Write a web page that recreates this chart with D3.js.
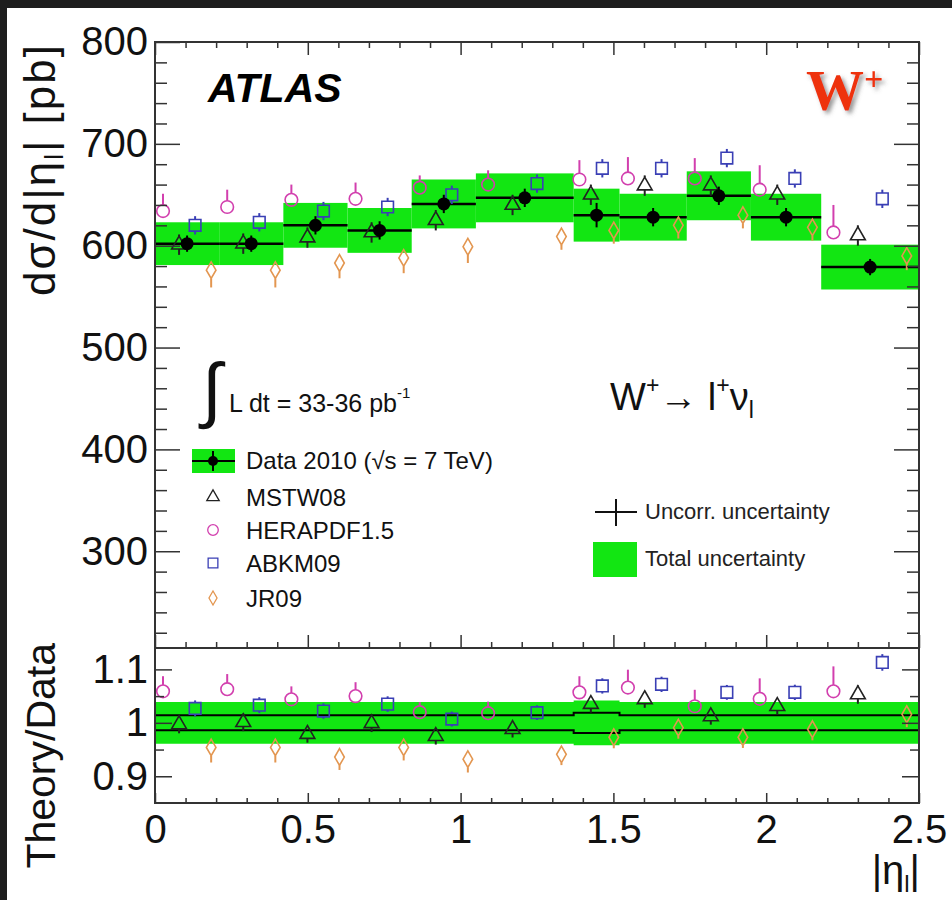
<!DOCTYPE html>
<html lang="en">
<head>
<meta charset="UTF-8">
<title>W+ cross section vs |eta|</title>
<script src="https://cdn.jsdelivr.net/npm/d3@7"></script>
<style>
  body { margin: 0; background: #fff; }
  svg { display: block; font-family: "Liberation Sans", Arial, sans-serif; }
  .tick line { stroke: #333; stroke-width: 1.5; }
  .tick text { fill: #111; }
</style>
</head>
<body>
<div id="chart"></div>
<script>
// bin edges in |eta_l|
var edges = [0, 0.21, 0.42, 0.63, 0.84, 1.05, 1.37, 1.52, 1.74, 1.95, 2.18, 2.5];

// measured dsigma/d|eta| [pb]
var xsec    = [602, 602, 620, 615, 641, 647, 630, 628, 649, 628, 579];
var statErr = [8, 8, 9, 9, 9, 9, 12, 9, 9, 9, 8];
var totErr  = [21, 21, 22, 22, 24, 24, 26, 23, 24, 23, 22];

// ratio panel band (relative half widths)
var ratioUnc = [0.014, 0.014, 0.014, 0.014, 0.014, 0.014, 0.019, 0.014, 0.014, 0.014, 0.014];
var ratioTot = [0.039, 0.039, 0.039, 0.039, 0.039, 0.039, 0.042, 0.039, 0.039, 0.039, 0.039];

// predictions [pb]
var mstw = [601, 602, 608, 613, 625, 640, 650, 659, 659, 650, 610];
var hera = [634, 638, 645, 646, 657, 660, 665, 666, 666, 655, 613];
var abkm = [620, 623, 634, 638, 650, 661, 676, 676, 686, 666, 646];
var jr09 = [576, 576, 583, 588, 599, 609, 615, 620, 630, 618, 590];

// theory / data
var mstwR = [0.997, 1.001, 0.979, 0.999, 0.975, 0.988, 1.035, 1.044, 1.012, 1.031, 1.053];
var heraR = [1.059, 1.063, 1.044, 1.050, 1.020, 1.018, 1.057, 1.066, 1.031, 1.045, 1.059];
var abkmR = [1.027, 1.033, 1.022, 1.035, 1.007, 1.019, 1.069, 1.072, 1.057, 1.057, 1.113];
var jr09R = [0.954, 0.954, 0.936, 0.954, 0.932, 0.941, 0.973, 0.991, 0.973, 0.988, 1.016];

// prediction uncertainties [pb]
var mstwErr = [10, 10, 10, 10, 10, 10, 10, 10, 10, 10, 10];
var heraUp  = [17, 17, 15, 16, 12, 14, 19, 21, 20, 24, 27];
var heraDn  = [3, 3, 3, 3, 3, 3, 3, 3, 3, 3, 3];
var abkmErr = [9, 9, 9, 9, 9, 9, 9, 9, 9, 9, 9];
var jr09Up  = [4, 4, 4, 4, 4, 4, 4, 4, 4, 4, 4];
var jr09Dn  = [17, 17, 15, 15, 16, 13, 13, 13, 13, 13, 14];

var green = "#12e612";

// marker half extents above / below centre, per d3 symbol geometry
function ext(sym, size) {
    if (sym === d3.symbolCircle) { var r = Math.sqrt(size / Math.PI); return [r, r]; }
    if (sym === d3.symbolSquare) { var h = Math.sqrt(size) / 2; return [h, h]; }
    if (sym === d3.symbolTriangle) { var t = Math.sqrt(size / (3 * Math.sqrt(3))); return [2 * t, t]; }
    var dd = Math.sqrt(size / (2 * Math.tan(Math.PI / 6))); return [dd, dd];
}

var models = [
    {name: "MSTW08", top: mstw, ratio: mstwR, up: mstwErr, dn: mstwErr, sym: d3.symbolTriangle, size: 95, color: "#222222", frac: 0.375},
    {name: "HERAPDF1.5", top: hera, ratio: heraR, up: heraUp, dn: heraDn, sym: d3.symbolCircle, size: 125, color: "#d23fae", frac: 0.125},
    {name: "ABKM09", top: abkm, ratio: abkmR, up: abkmErr, dn: abkmErr, sym: d3.symbolSquare, size: 135, color: "#3a3fb5", frac: 0.625},
    {name: "JR09", top: jr09, ratio: jr09R, up: jr09Up, dn: jr09Dn, sym: d3.symbolDiamond, size: 80, color: "#e39650", frac: 0.875}
];

var width = 952, height = 900;
var left = 155, right = 919, topY = 42, midY = 648, botY = 803;

var svg = d3.select("#chart").append("svg")
    .attr("width", width)
    .attr("height", height);

svg.append("rect").attr("width", width).attr("height", height).attr("fill", "#fff");
svg.append("rect").attr("width", width).attr("height", 8).attr("fill", "#1e1e1e");
svg.append("rect").attr("width", 7).attr("height", height).attr("fill", "#1e1e1e");

var defs = svg.append("defs");
defs.append("filter").attr("id", "shadow")
    .append("feDropShadow")
    .attr("dx", 3).attr("dy", 3).attr("stdDeviation", 2)
    .attr("flood-color", "#555").attr("flood-opacity", 0.6);

var x = d3.scaleLinear().domain([0, 2.5]).range([left, right]);
var yT = d3.scaleLinear().domain([205, 800]).range([midY, topY]);
var yB = d3.scaleLinear().domain([0.85, 1.14]).range([botY, midY]);

var bins = d3.range(xsec.length);
var xMajor = [0, 0.5, 1, 1.5, 2, 2.5];
var xMinor = d3.range(0.1, 2.5, 0.1).filter(function(v) { return Math.abs(v * 2 - Math.round(v * 2)) > 0.01; });

// ---------- top panel ----------
var gTop = svg.append("g");

gTop.selectAll(".box")
    .data(bins)
    .enter().append("rect")
    .attr("x", function(i) { return x(edges[i]); })
    .attr("width", function(i) { return x(edges[i + 1]) - x(edges[i]); })
    .attr("y", function(i) { return yT(xsec[i] + totErr[i]); })
    .attr("height", function(i) { return yT(xsec[i] - totErr[i]) - yT(xsec[i] + totErr[i]); })
    .attr("fill", green);

gTop.selectAll(".cen")
    .data(bins)
    .enter().append("line")
    .attr("x1", function(i) { return x(edges[i]); })
    .attr("x2", function(i) { return x(edges[i + 1]); })
    .attr("y1", function(i) { return yT(xsec[i]); })
    .attr("y2", function(i) { return yT(xsec[i]); })
    .attr("stroke", "#000").attr("stroke-width", 2.5);

function drawModels(g, yScale, useRatio) {
    models.forEach(function(m) {
        var e = ext(m.sym, m.size);
        var pos = function(i) { return edges[i] + m.frac * (edges[i + 1] - edges[i]); };
        var val = function(i) { return useRatio ? m.ratio[i] : m.top[i]; };
        var eu = function(i) { return useRatio ? m.up[i] / xsec[i] : m.up[i]; };
        var ed = function(i) { return useRatio ? m.dn[i] / xsec[i] : m.dn[i]; };
        // error bar parts outside the marker
        g.selectAll(null)
            .data(bins)
            .enter().append("line")
            .attr("x1", function(i) { return x(pos(i)); })
            .attr("x2", function(i) { return x(pos(i)); })
            .attr("y1", function(i) { return yScale(val(i) + eu(i)); })
            .attr("y2", function(i) { return Math.max(yScale(val(i) + eu(i)), yScale(val(i)) - e[0]); })
            .attr("stroke", m.color).attr("stroke-width", 2);
        g.selectAll(null)
            .data(bins)
            .enter().append("line")
            .attr("x1", function(i) { return x(pos(i)); })
            .attr("x2", function(i) { return x(pos(i)); })
            .attr("y1", function(i) { return Math.min(yScale(val(i) - ed(i)), yScale(val(i)) + e[1]); })
            .attr("y2", function(i) { return yScale(val(i) - ed(i)); })
            .attr("stroke", m.color).attr("stroke-width", 2);
        g.selectAll(null)
            .data(bins)
            .enter().append("path")
            .attr("d", d3.symbol().type(m.sym).size(m.size))
            .attr("transform", function(i) { return "translate(" + x(pos(i)) + "," + yScale(val(i)) + ")"; })
            .attr("fill", "none")
            .attr("stroke", m.color).attr("stroke-width", 1.6);
    });
}
drawModels(gTop, yT, false);

gTop.selectAll(".stat")
    .data(bins)
    .enter().append("line")
    .attr("x1", function(i) { return x((edges[i] + edges[i + 1]) / 2); })
    .attr("x2", function(i) { return x((edges[i] + edges[i + 1]) / 2); })
    .attr("y1", function(i) { return yT(xsec[i] + statErr[i]); })
    .attr("y2", function(i) { return yT(xsec[i] - statErr[i]); })
    .attr("stroke", "#000").attr("stroke-width", 2);

gTop.selectAll(".pt")
    .data(bins)
    .enter().append("circle")
    .attr("cx", function(i) { return x((edges[i] + edges[i + 1]) / 2); })
    .attr("cy", function(i) { return yT(xsec[i]); })
    .attr("r", 6.5)
    .attr("fill", "#000");

// ---------- ratio panel ----------
var gBot = svg.append("g");
var steps = [];
bins.forEach(function(i) {
    steps.push({x: edges[i], i: i});
    steps.push({x: edges[i + 1], i: i});
});

gBot.append("path")
    .datum(steps)
    .attr("d", d3.area()
        .x(function(d) { return x(d.x); })
        .y0(function(d) { return yB(1 - ratioTot[d.i]); })
        .y1(function(d) { return yB(1 + ratioTot[d.i]); }))
    .attr("fill", green);

[1, -1].forEach(function(s) {
    gBot.append("path")
        .datum(steps)
        .attr("d", d3.line()
            .x(function(d) { return x(d.x); })
            .y(function(d) { return yB(1 + s * ratioUnc[d.i]); }))
        .attr("fill", "none").attr("stroke", "#000").attr("stroke-width", 2);
});

drawModels(gBot, yB, true);

// ---------- axes ----------
function ax(axis, tx, ty) {
    var g = svg.append("g").attr("transform", "translate(" + tx + "," + ty + ")").call(axis);
    g.select(".domain").remove();
    return g;
}
var fmt = function(d) { return d3.format("")(d); };

var yLab = ax(d3.axisLeft(yT).tickValues([300, 400, 500, 600, 700, 800]).tickSize(-25).tickPadding(7), left, 0);
yLab.selectAll("text").attr("font-size", 40);
ax(d3.axisLeft(yT).tickValues(d3.range(220, 800, 20).filter(function(v) { return v % 100; })).tickSize(-12).tickFormat(""), left, 0);
ax(d3.axisRight(yT).tickValues([300, 400, 500, 600, 700]).tickSize(-25).tickFormat(""), right, 0);
ax(d3.axisRight(yT).tickValues(d3.range(220, 800, 20).filter(function(v) { return v % 100; })).tickSize(-12).tickFormat(""), right, 0);
ax(d3.axisTop(x).tickValues(xMajor).tickSize(-13).tickFormat(""), 0, topY);
ax(d3.axisTop(x).tickValues(xMinor).tickSize(-6).tickFormat(""), 0, topY);
ax(d3.axisBottom(x).tickValues(xMajor).tickSize(-13).tickFormat(""), 0, midY);
ax(d3.axisBottom(x).tickValues(xMinor).tickSize(-6).tickFormat(""), 0, midY);

var rLab = ax(d3.axisLeft(yB).tickValues([0.9, 1, 1.1]).tickSize(-17).tickPadding(7).tickFormat(fmt), left, 0);
rLab.selectAll("text").attr("font-size", 40);
ax(d3.axisLeft(yB).tickValues([0.95, 1.05]).tickSize(-9).tickFormat(""), left, 0);
ax(d3.axisRight(yB).tickValues([0.9, 1, 1.1]).tickSize(-17).tickFormat(""), right, 0);
ax(d3.axisRight(yB).tickValues([0.95, 1.05]).tickSize(-9).tickFormat(""), right, 0);
var xLab = ax(d3.axisBottom(x).tickValues(xMajor).tickSize(-10).tickPadding(12).tickFormat(fmt), 0, botY);
xLab.selectAll("text").attr("font-size", 40);
ax(d3.axisBottom(x).tickValues(xMinor).tickSize(-5).tickFormat(""), 0, botY);

// frames
svg.append("rect").attr("x", left).attr("y", topY).attr("width", right - left).attr("height", midY - topY)
    .attr("fill", "none").attr("stroke", "#333").attr("stroke-width", 2);
svg.append("rect").attr("x", left).attr("y", midY).attr("width", right - left).attr("height", botY - midY)
    .attr("fill", "none").attr("stroke", "#333").attr("stroke-width", 2);

// ---------- titles ----------
var yt = svg.append("text")
    .attr("transform", "translate(55,43) rotate(-90)")
    .attr("text-anchor", "end")
    .attr("font-size", 44).attr("letter-spacing", 2).attr("fill", "#111");
yt.append("tspan").text("dσ/d|η");
yt.append("tspan").attr("font-size", 26).attr("dy", 8).text("l");
yt.append("tspan").attr("dy", -8).text("| [pb]");

svg.append("text")
    .attr("transform", "translate(55,643) rotate(-90)")
    .attr("text-anchor", "end")
    .attr("font-size", 41).attr("fill", "#111")
    .text("Theory/Data");

var xt = svg.append("text")
    .attr("x", 920).attr("y", 884)
    .attr("text-anchor", "end")
    .attr("font-size", 40).attr("fill", "#111");
xt.append("tspan").text("|η");
xt.append("tspan").attr("font-size", 24).attr("dy", 8).text("l");
xt.append("tspan").attr("dy", -8).text("|");

svg.append("text")
    .attr("x", 208).attr("y", 102)
    .attr("font-size", 41).attr("font-weight", "bold").attr("font-style", "italic")
    .attr("fill", "#000")
    .text("ATLAS");

var wp = svg.append("text")
    .attr("x", 806).attr("y", 110)
    .attr("font-family", "'Liberation Serif', serif")
    .attr("font-size", 58).attr("font-weight", "bold")
    .attr("fill", "#ee3311")
    .attr("filter", "url(#shadow)");
wp.append("tspan").text("W");
wp.append("tspan").attr("font-size", 34).attr("dy", -20).text("+");

// integrated luminosity
svg.append("text")
    .attr("x", 202).attr("y", 414)
    .attr("font-family", "'DejaVu Sans', sans-serif")
    .attr("font-size", 72).attr("font-weight", 200).attr("fill", "#111")
    .text("∫");
var lum = svg.append("text")
    .attr("x", 229).attr("y", 412)
    .attr("font-size", 25).attr("fill", "#111");
lum.append("tspan").text("L dt = 33-36 pb");
lum.append("tspan").attr("font-size", 15).attr("dy", -14).text("-1");

var proc = svg.append("text")
    .attr("x", 610).attr("y", 410)
    .attr("font-size", 38).attr("fill", "#111");
proc.append("tspan").text("W");
proc.append("tspan").attr("font-size", 23).attr("dy", -17).text("+");
proc.append("tspan").attr("dy", 17).text("→ l");
proc.append("tspan").attr("font-size", 23).attr("dy", -17).text("+");
proc.append("tspan").attr("dy", 17).text("ν");
proc.append("tspan").attr("font-size", 23).attr("dy", 8).text("l");

// ---------- legend ----------
var lx = 213;
var leg = svg.append("g");
leg.append("rect").attr("x", 192).attr("y", 449).attr("width", 43).attr("height", 24).attr("fill", green);
leg.append("line").attr("x1", 192).attr("x2", 235).attr("y1", 461).attr("y2", 461).attr("stroke", "#000").attr("stroke-width", 2);
leg.append("line").attr("x1", lx).attr("x2", lx).attr("y1", 451).attr("y2", 471).attr("stroke", "#000").attr("stroke-width", 2);
leg.append("circle").attr("cx", lx).attr("cy", 461).attr("r", 5).attr("fill", "#000");
leg.append("text").attr("x", 246).attr("y", 469).attr("font-size", 24).attr("fill", "#111")
    .text("Data 2010 (√s = 7 TeV)");

models.forEach(function(m, k) {
    var cy = [497, 530, 563, 598][k];
    leg.append("path")
        .attr("d", d3.symbol().type(m.sym).size(m.size * 0.7))
        .attr("transform", "translate(" + lx + "," + cy + ")")
        .attr("fill", "none").attr("stroke", m.color).attr("stroke-width", 1.3);
    leg.append("text").attr("x", 246).attr("y", cy + 8.5).attr("font-size", 24).attr("fill", "#111")
        .text(m.name);
});

leg.append("line").attr("x1", 595).attr("x2", 637).attr("y1", 512).attr("y2", 512).attr("stroke", "#111").attr("stroke-width", 2);
leg.append("line").attr("x1", 616).attr("x2", 616).attr("y1", 499).attr("y2", 526).attr("stroke", "#111").attr("stroke-width", 2);
leg.append("text").attr("x", 645).attr("y", 519).attr("font-size", 22).attr("fill", "#222")
    .text("Uncorr. uncertainty");
leg.append("rect").attr("x", 593).attr("y", 542).attr("width", 44).attr("height", 35).attr("fill", green);
leg.append("text").attr("x", 645).attr("y", 566).attr("font-size", 22).attr("fill", "#222")
    .text("Total uncertainty");
</script>
</body>
</html>
